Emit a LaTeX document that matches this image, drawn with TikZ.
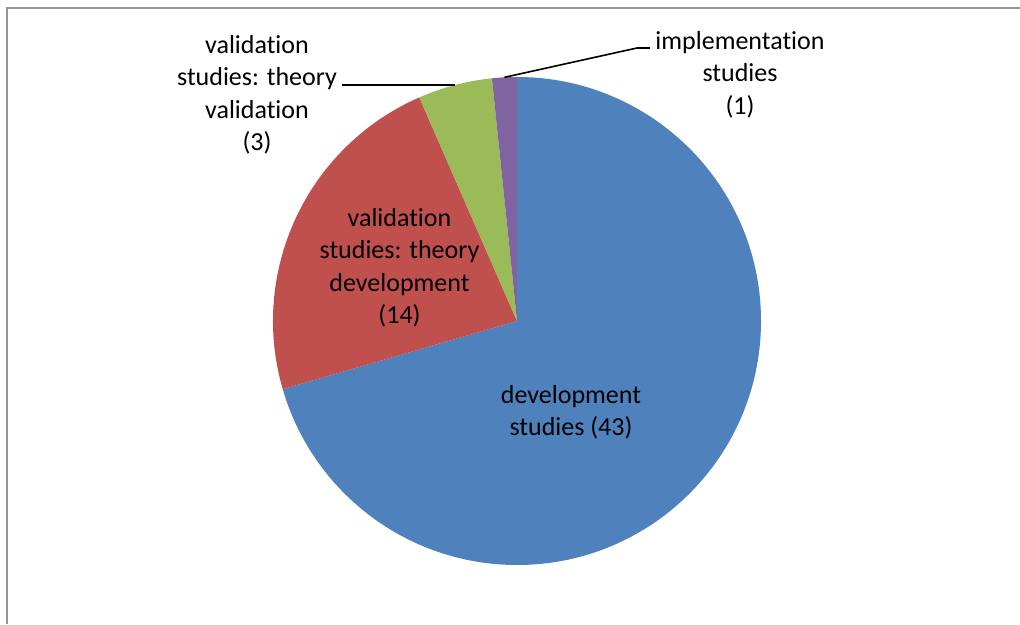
\documentclass[tikz,border=0pt]{standalone}
\usepackage{fontspec}
\setmainfont[Ligatures={NoCommon}]{Carlito}
\usetikzlibrary{calc}
\definecolor{devblue}{HTML}{4F81BD}
\definecolor{theored}{HTML}{C0504D}
\definecolor{valgreen}{HTML}{9BBB59}
\definecolor{implpurple}{HTML}{8064A2}
\definecolor{framegray}{RGB}{150,150,150}
\tikzset{
  x=1pt, y=1pt,
  lbl/.style={align=center, inner sep=0pt, font=\fontsize{26}{32.5}\selectfont},
  leader/.style={draw=black, line width=1.6pt},
}
\begin{document}
\begin{tikzpicture}
\useasboundingbox (0,0) rectangle (1020,624);
\fill[white] (0,0) rectangle (1020,624);
% chart frame (left and top edges)
\draw[framegray, line width=1.6pt] (7,0) -- (7,616) -- (1020,616);

\def\R{244}
\coordinate (c) at (517,303);
% slices, clockwise from the top
\fill[devblue] (c) -- ++(90:\R) arc[start angle=90, end angle=-163.770, radius=\R] -- cycle;
\fill[theored] (c) -- ++(-163.770:\R) arc[start angle=-163.770, end angle=-246.393, radius=\R] -- cycle;
\fill[valgreen] (c) -- ++(-246.393:\R) arc[start angle=-246.393, end angle=-264.098, radius=\R] -- cycle;
\fill[implpurple] (c) -- ++(-264.098:\R) arc[start angle=-264.098, end angle=-270, radius=\R] -- cycle;

% labels
\node[lbl] (ldev) at (571,211.5) {development\\studies (43)};
\node[lbl] (lthd) at (399.5,356) {validation\\studies: theory\\development\\(14)};
\node[lbl] (lthv) at (257,529) {validation\\studies: theory\\validation\\(3)};
\node[lbl] (limp) at (740,549.3) {implementation\\studies\\(1)};

% leader lines
\coordinate (gmid) at ($(c)+(104.75:\R)$);
\coordinate (pmid) at ($(c)+(92.95:\R)$);
\coordinate (gend) at (342,540);
\coordinate (pknee) at (637,576);
\coordinate (pend) at (650,576);
\draw[leader] (gmid) -- (gmid -| gend);
\draw[leader] (pmid) -- (pknee) -- (pend);
\end{tikzpicture}
\end{document}
